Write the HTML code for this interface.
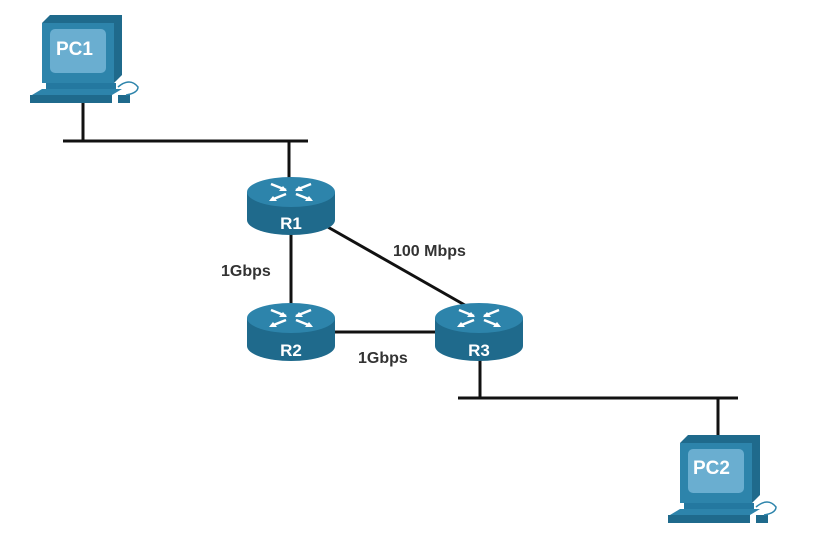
<!DOCTYPE html>
<html><head><style>body{margin:0;background:#fff}svg{display:block}text{font-family:"Liberation Sans",sans-serif;font-weight:bold}</style></head><body>
<svg width="836" height="552" viewBox="0 0 836 552">
<defs>
<g id="rt">
<path d="M-44,0 L-44,28 A44,15 0 0 0 44,28 L44,0 Z" fill="#1f6a8c"/>
<ellipse cx="0" cy="0" rx="44" ry="15" fill="#2d84ab"/>
<g stroke="#fff" stroke-width="2.5" fill="#fff">
<line x1="-20" y1="-8" x2="-5" y2="-2"/><line x1="20" y1="-8" x2="5" y2="-2"/>
<line x1="-5" y1="2" x2="-20" y2="8"/><line x1="5" y1="2" x2="20" y2="8"/>
<path d="M-4,-1 L-12,-1 L-8,-6 Z" stroke="none"/>
<path d="M4,-1 L12,-1 L8,-6 Z" stroke="none"/>
<path d="M-22,9 L-14,9 L-18,4 Z" stroke="none"/>
<path d="M22,9 L14,9 L18,4 Z" stroke="none"/>
</g>
</g>
<g id="pc">
<path d="M0,8 L8,0 L80,0 L80,60 L72,68 L0,68 Z" fill="#1f6a8c"/>
<rect x="0" y="8" width="72" height="60" fill="#2d84ab"/>
<rect x="8" y="14" width="56" height="44" rx="5" fill="#6aaed0"/>
<rect x="4" y="68" width="70" height="6" fill="#2478a0"/>
<path d="M-10,80 L70,80 L80,74 L0,74 Z" fill="#2d84ab"/>
<rect x="-12" y="80" width="82" height="8" fill="#1f6a8c"/>
<rect x="76" y="80" width="12" height="8" fill="#1f6a8c"/>
<path d="M76,72 Q88,62 96,72 Q96,78 84,80" stroke="#2d84ab" fill="none" stroke-width="1.5"/>
</g>
</defs>
<g stroke="#111" stroke-width="3">
<line x1="83" y1="100" x2="83" y2="141"/>
<line x1="63" y1="141" x2="308" y2="141"/>
<line x1="289" y1="141" x2="289" y2="178"/>
<line x1="291" y1="232" x2="291" y2="308"/>
<line x1="326" y1="226" x2="470" y2="308"/>
<line x1="333" y1="332" x2="438" y2="332"/>
<line x1="480" y1="348" x2="480" y2="398"/>
<line x1="458" y1="398" x2="738" y2="398"/>
<line x1="718" y1="398" x2="718" y2="437"/>
</g>
<use href="#pc" x="42" y="15"/>
<use href="#pc" x="680" y="435"/>
<text x="56" y="55" font-size="19" fill="#fff">PC1</text>
<text x="693" y="474" font-size="19" fill="#fff">PC2</text>
<use href="#rt" x="291" y="192"/>
<use href="#rt" x="291" y="318"/>
<use href="#rt" x="479" y="318"/>
<text x="291" y="229" font-size="17" fill="#fff" text-anchor="middle">R1</text>
<text x="291" y="356" font-size="17" fill="#fff" text-anchor="middle">R2</text>
<text x="479" y="356" font-size="17" fill="#fff" text-anchor="middle">R3</text>
<text x="393" y="256" font-size="16" fill="#333">100 Mbps</text>
<text x="221" y="276" font-size="16" fill="#333">1Gbps</text>
<text x="358" y="363" font-size="16" fill="#333">1Gbps</text>
</svg>
</body></html>
